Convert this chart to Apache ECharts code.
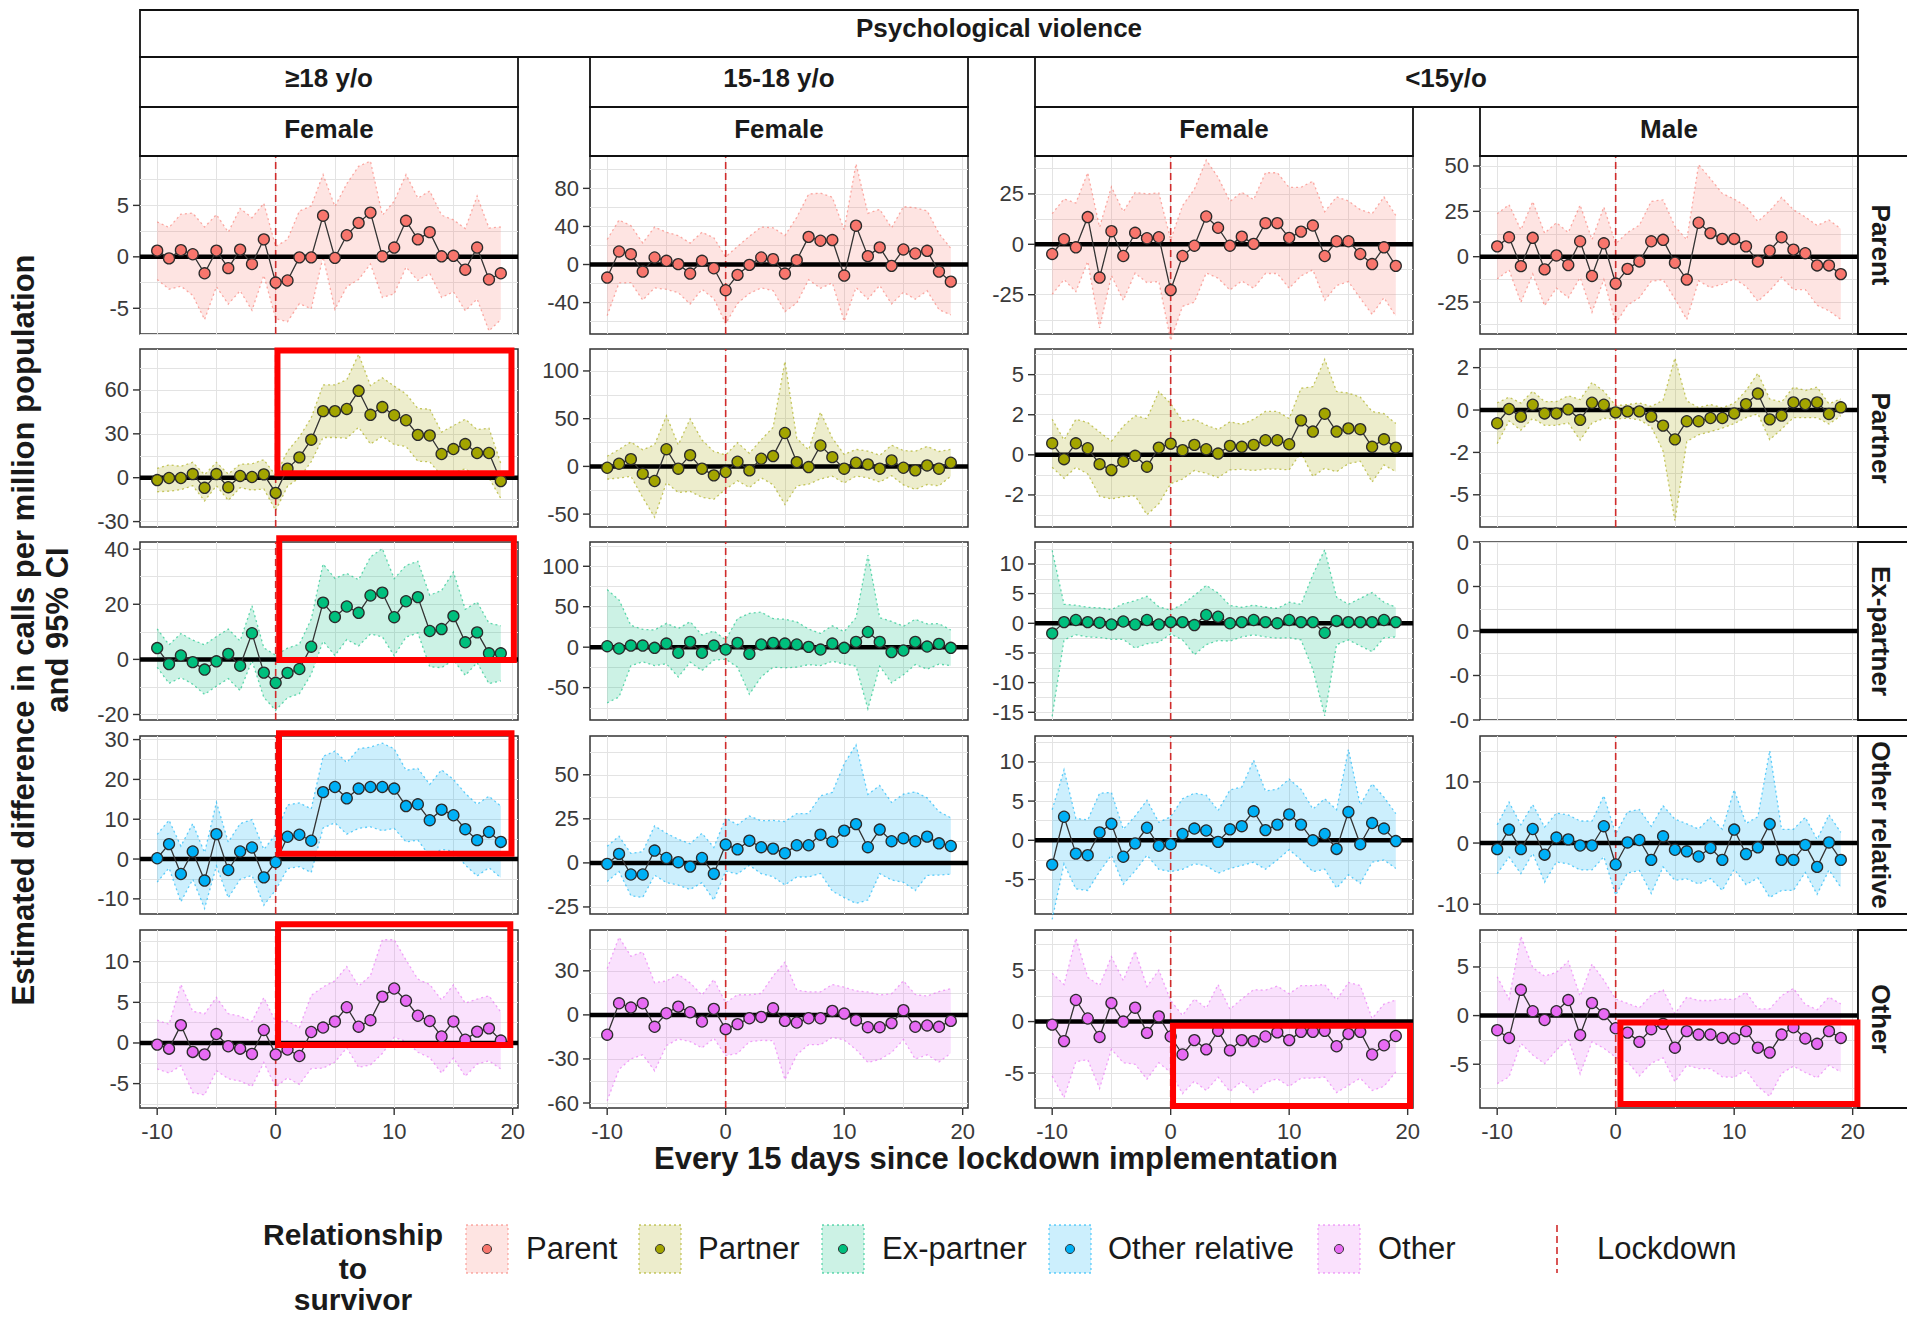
<!DOCTYPE html>
<html>
<head>
<meta charset="utf-8">
<script src="https://cdn.jsdelivr.net/npm/echarts@6/dist/echarts.min.js"></script>
<style>html,body{margin:0;padding:0;background:#fff}#c{width:1907px;height:1319px}</style>
</head>
<body>
<div id="c"></div>
<script>
// ---------------- DATA ----------------
const X = [-10,-9,-8,-7,-6,-5,-4,-3,-2,-1,0,1,2,3,4,5,6,7,8,9,10,11,12,13,14,15,16,17,18,19];

// Row: Parent
const est_parent_adultF = [0.6,-0.15,0.65,0.25,-1.6,0.6,-1.1,0.7,-0.7,1.7, -2.5,-2.3,-0.05,-0.05,4.0,-0.1,2.1,3.3,4.3,0.05, 0.9,3.5,1.7,2.4,0.05,0.1,-1.25,0.9,-2.2,-1.6];
const hw_parent_adultF  = [2.8,3,3.5,4,4.5,3.5,3.5,4,4.5,3.5, 3.5,4,4.5,5,4,5,5,5.5,5,4, 4.5,4.5,4,4,4,3.5,4,5,5,4.5];
const est_parent_teenF  = [-13.7,13.7,10.9,-7.4,7.4,3.9,0.4,-9.5,3.9,-3.9, -27,-10.9,-0.4,7.4,5.6,-9.5,4.6,29,25,25.7, -11.6,40.8,8.8,18,-1.4,15.8,11.6,14.4,-7.4,-18];
const hw_parent_teenF   = [40,33,30,30,32,30,30,32,30,32, 35,30,30,32,33,40,45,45,50,45, 48,65,45,40,40,45,48,42,40,35];
const est_parent_childF = [-4.8,2.5,-1.5,13.5,-16.5,6.5,-5.8,5.7,3,3.5, -22.7,-5.8,-0.7,13.8,8.2,-0.7,3.8,0.2,10.5,10.5, 3.2,6.3,9.3,-5.8,1.5,1.5,-4.8,-9.8,-1.5,-10.7];
const hw_parent_childF  = [20,20,22,22,25,22,22,20,22,22, 25,25,28,28,25,22,22,22,25,25, 25,22,22,22,22,20,22,25,25,25];
const est_parent_childM = [5.7,10.7,-5.2,10.4,-7,0.7,-4.6,8.5,-10.6,7.4, -14.8,-6.7,-2.6,8.5,9.3,-3.3,-12.6,18.7,13,9.8, 9.8,5.7,-2.6,3.3,10.7,3.9,1.9,-4.8,-4.8,-9.6];
const hw_parent_childM  = [18,18,20,20,20,18,18,20,20,20, 22,20,20,22,22,20,22,32,30,25, 22,22,22,22,22,22,20,22,25,25];

// Row: Partner
const est_partner_adultF = [-1.6,-0.2,-0.2,2.5,-6.9,2.5,-6.5,1.2,0.5,2.3, -10.4,6.2,13.9,26,45.5,45.5,47,59.4,43,48.3, 42.7,39.3,29.3,28.9,16.2,19.6,23,16.9,16.9,-2.3];
const hw_partner_adultF  = [8,9,8,8,9,8,9,8,9,10, 12,12,14,15,18,18,20,25,20,20, 20,18,18,18,15,16,17,16,17,12];
const est_partner_teenF  = [-1.4,2.8,7.6,-7.6,-15.3,18,-2.4,11.8,-2.4,-9.4, -5.9,4.9,-4.2,8,10.8,35,4.5,-0.7,21.9,9.7, -2.4,3.8,2.1,-2.4,6.3,-1.4,-4.2,1,-2.4,3.8];
const hw_partner_teenF   = [12,15,18,25,38,35,25,38,30,25, 18,20,18,20,30,75,25,18,35,20, 15,14,14,14,16,18,20,20,18,14];
const est_partner_childF = [0.72,-0.27,0.72,0.41,-0.58,-0.95,-0.41,-0.06,-0.74,0.45, 0.7,0.29,0.62,0.35,0.08,0.56,0.5,0.62,0.91,0.91, 0.66,2.15,1.45,2.56,1.45,1.65,1.6,0.5,0.97,0.45];
const hw_partner_childF  = [1.5,1.2,1.5,1.6,2,1.8,2.2,2.5,3,3.5, 2.5,1.8,1.6,1.5,1.5,1.5,1.4,1.6,1.8,1.8, 1.6,2,2.8,3.4,2.5,2.2,2,2.2,1.6,1.5];
const est_partner_childM = [-0.78,0.06,-0.39,0.31,-0.2,-0.2,0.04,-0.58,0.43,0.31, -0.14,-0.08,-0.08,-0.39,-0.92,-1.73,-0.66,-0.66,-0.47,-0.47, -0.2,0.35,0.97,-0.55,-0.33,0.45,0.35,0.45,-0.23,0.16];
const hw_partner_childM  = [1.2,0.7,0.8,0.8,0.7,0.7,0.8,1.2,1.2,0.8, 0.4,0.4,0.5,0.6,1.5,4.8,1.2,0.8,0.8,0.6, 0.6,0.8,1.2,1.2,0.8,0.9,0.8,0.9,0.6,0.5];

// Row: Ex-partner
const est_expartner_adultF = [4.1,-1.7,1.4,-1,-3.7,-0.7,2,-2.3,9.5,-4.8, -8.5,-4.9,-3.5,4.6,20.6,15.4,19.2,16.9,23.2,24.2, 15.3,21.1,22.6,10.3,11,15.7,6.2,9.8,2.2,2.2];
const hw_expartner_adultF  = [7,7,8,8,9,9,9,9,10,9, 10,9,9,10,14,14,12,12,14,16, 14,13,13,13,14,16,12,11,11,10];
const est_expartner_teenF  = [1.2,-1.6,2,2,-0.8,4.5,-6.9,6.5,-6.9,2, -2.9,5.3,-8.2,3.3,5.3,4.5,3.3,0.4,-2.9,4.5, -0.8,6.5,18.8,6.5,-6.1,-4.1,6.5,0.8,4.1,-0.8];
const hw_expartner_teenF   = [70,60,25,20,22,25,30,25,22,18, 12,30,50,40,30,30,28,22,20,22, 20,30,95,30,38,30,28,28,25,22];
const est_expartner_childF = [-1.7,0.2,0.55,0.2,0.1,-0.2,0.3,-0.2,0.55,-0.2, 0.2,0.2,-0.3,1.4,1.1,0,0.2,0.55,0.2,0, 0.55,0.2,0.2,-1.6,0.4,0.2,0.2,0.2,0.55,0.2];
const hw_expartner_childF  = [14,3,2.5,2.5,2.5,2.5,3,4,4,3, 2,3,5,5,4,3,2.5,2.5,2.5,2.5, 3,3,8,14,4,3,4,5,3,2.5];
// <15 Male, Ex-partner: no data

// Row: Other relative
const est_otherrel_adultF = [0.2,3.75,-3.75,1.9,-5.4,6.25,-2.75,1.9,2.9,-4.6, -0.8,5.6,6.1,4.6,16.8,18.1,15.25,17.7,18.1,18.1, 17.7,13.3,13.75,9.75,12.4,11,7.5,4.75,6.8,4.3];
const hw_otherrel_adultF  = [6,6,7,7,7,8,7,7,7,7, 7,8,8,8,9,9,9,10,10,11, 10,9,9,9,10,9,9,9,9,9];
const est_otherrel_teenF  = [-0.6,5.1,-6.6,-6.6,7,2.8,0.4,-2.1,2.8,-6.2, 10.4,7.7,12.6,8.9,8.1,5.5,10,10,16,12, 18.3,22,8.9,18.9,12.3,14,12.3,14.9,11.1,9.6];
const hw_otherrel_teenF   = [10,10,12,13,14,14,13,13,14,15, 15,14,14,15,16,18,18,18,22,28, 38,45,30,25,22,25,28,22,18,16];
const est_otherrel_childF = [-3.1,3.0,-1.7,-1.9,1,2.1,-2.1,-0.4,1.6,-0.7, -0.5,0.8,1.5,1.25,-0.2,1.4,1.8,3.7,1.3,2, 3.3,2,0,0.8,-1.1,3.6,-0.5,2.2,1.5,-0.1];
const hw_otherrel_childF  = [7,6,4.5,4.5,5,4,3.5,3.5,3.5,3, 3.5,4.5,4.5,4.5,4,5,5,6.5,5,4.5, 4.5,4.5,4,4.5,5,8,5,5,4,3.5];
const est_otherrel_childM = [-1,2.2,-1,2.3,-1.9,0.9,0.6,-0.4,-0.4,2.75, -3.5,0.1,0.5,-2.75,1.1,-1.1,-1.35,-2.2,-0.8,-2.75, 2.2,-1.8,-0.7,3.1,-2.75,-2.75,-0.3,-3.9,0.1,-2.75];
const hw_otherrel_childM  = [4,4.5,4,4,4.5,4,4,4,4,5, 5,5,5,5.5,5,5,4.5,4.5,5,5, 6.5,5,5,12,5,5,4.5,4.5,4.5,4.5];

// Row: Other
const est_other_adultF = [-0.2,-0.7,2.2,-1.1,-1.4,1.1,-0.4,-0.7,-1.35,1.6, -1.4,-0.8,-1.6,1.35,1.9,2.65,4.4,2.0,2.8,5.7, 6.7,5.2,3.35,2.7,0.8,2.65,0.4,1.4,1.8,0.3];
const hw_other_adultF  = [3,3,5,5,5,4.5,4,4,4,4, 4,3.5,3.5,4.5,5,5,5,5,5.5,7, 6,5,4.5,4.5,4.5,4.5,4.5,4,4,3.5];
const est_other_teenF  = [-13.5,7.9,5,7.9,-8.1,1.1,5.6,1.8,-4.5,4.1, -9.7,-6.3,-2.3,-1.4,4.5,-4.1,-5.2,-2.3,-2.3,2.7, 0.9,-3.6,-8.4,-8.4,-5.6,3.2,-8.1,-7.2,-8.1,-4.1];
const hw_other_teenF   = [45,45,35,35,30,22,22,20,18,20, 18,20,16,16,22,40,22,18,18,18, 18,20,24,22,20,20,22,20,24,22];
const est_other_childF = [-0.3,-1.9,2.1,0.3,-1.5,1.8,0,1.35,-1.1,0.5, -1.45,-3.2,-1.8,-2.7,-0.9,-2.8,-1.8,-1.9,-1.45,-1.05, -1.8,-1,-1,-0.9,-2.4,-1.2,-1,-3.2,-2.3,-1.4];
const hw_other_childF  = [5,5.5,6,4,5,4.5,4,5.5,4.5,4.5, 3.5,3.8,4,4,4.5,4,4,5,4.5,4.5, 4.5,4.5,4.5,4.5,4.5,5,4.5,3.5,4,3.5];
const est_other_childM = [-1.5,-2.3,2.65,0.45,-0.45,0.45,1.6,-2,1.3,0.15, -1.3,-1.75,-2.7,-1.4,-0.85,-3.3,-1.6,-1.95,-1.95,-2.3, -2.35,-1.6,-3.3,-3.8,-1.95,-1.2,-2.35,-2.9,-1.6,-2.3];
const hw_other_childM  = [5.5,4,5.5,4.5,4.5,4,4,4,4,3.5, 3,3,3.5,3.5,3.5,3.5,3.5,3.5,3.5,4, 4,4,4,4.5,4,4,3.5,3.5,3.5,3.5];

// Categories / labels
const ROWS = ['Parent','Partner','Ex-partner','Other relative','Other'];
const AGE_STRIPS = ['\u226518 y/o','15-18 y/o','<15y/o'];
const SEX_STRIPS = ['Female','Female','Female','Male'];

// Y axis ranges, tick values and tick label texts (rows x columns)
const Y_RANGE = [
  [[-7.5,9.8],[-73,114],[-44.5,43.8],[-42.6,55.5]],
  [[-33.7,88],[-63.5,123],[-4.5,6.6],[-6.9,3.6]],
  [[-22,42.6],[-90,130],[-16.3,13.7],[-1,1]],
  [[-13.8,30.9],[-29,72],[-9.4,13.3],[-11.6,17.5]],
  [[-8,13.9],[-63.4,57.8],[-8.4,8.9],[-9.5,8.8]]
];
const Y_TICKS = [
  [[-5,0,5],[-40,0,40,80],[-25,0,25],[-25,0,25,50]],
  [[-30,0,30,60],[-50,0,50,100],[-2.5,0,2.5,5],[-5,-2.5,0,2.5]],
  [[-20,0,20,40],[-50,0,50,100],[-15,-10,-5,0,5,10],[-1,-0.5,0,0.5,1]],
  [[-10,0,10,20,30],[-25,0,25,50],[-5,0,5,10],[-10,0,10]],
  [[-5,0,5,10],[-60,-30,0,30],[-5,0,5],[-5,0,5]]
];
const Y_TICK_TEXT = [
  [null,null,null,null],
  [null,null,['-2','0','2','5'],['-5','-2','0','2']],
  [null,null,null,['-0','-0','0','0','0']],
  [null,null,null,null],
  [null,null,null,null]
];
const X_TICKS = [-10,0,10,20];
const X_RANGE = [-11.45,20.45];

// Highlight boxes (data coordinates of the annotated panel)
const BOXES = [
  {row:1,col:0,x0:0.15,x1:19.9,y0:3,y1:87},
  {row:2,col:0,x0:0.3,x1:20.1,y0:-0.2,y1:44},
  {row:3,col:0,x0:0.28,x1:19.9,y0:1.3,y1:31.6},
  {row:4,col:0,x0:0.2,x1:19.8,y0:-0.25,y1:14.6},
  {row:4,col:2,x0:0.2,x1:20.2,y0:-8.2,y1:-0.4},
  {row:4,col:3,x0:0.4,x1:20.4,y0:-9.1,y1:-0.7}
];

// ---------------- ASSEMBLY ----------------
const EST = [
  [est_parent_adultF, est_parent_teenF, est_parent_childF, est_parent_childM],
  [est_partner_adultF, est_partner_teenF, est_partner_childF, est_partner_childM],
  [est_expartner_adultF, est_expartner_teenF, est_expartner_childF, null],
  [est_otherrel_adultF, est_otherrel_teenF, est_otherrel_childF, est_otherrel_childM],
  [est_other_adultF, est_other_teenF, est_other_childF, est_other_childM]
];
const HW = [
  [hw_parent_adultF, hw_parent_teenF, hw_parent_childF, hw_parent_childM],
  [hw_partner_adultF, hw_partner_teenF, hw_partner_childF, hw_partner_childM],
  [hw_expartner_adultF, hw_expartner_teenF, hw_expartner_childF, null],
  [hw_otherrel_adultF, hw_otherrel_teenF, hw_otherrel_childF, hw_otherrel_childM],
  [hw_other_adultF, hw_other_teenF, hw_other_childF, hw_other_childM]
];

const COLORS = ['#F8766D','#A3A500','#00BF7D','#00B0F6','#E76BF3'];
const FONT = "'Liberation Sans', Arial, Helvetica, sans-serif";
const GRID_LEFT = [140, 590, 1035, 1480];
const GRID_TOP = [156, 349, 542, 736, 930];
const GW = 378, GH = 178;
const TXT = '#1a1a1a', AXT = '#3a3a3a';

function rgba(hex, a) {
  const n = parseInt(hex.slice(1), 16);
  return 'rgba(' + ((n>>16)&255) + ',' + ((n>>8)&255) + ',' + (n&255) + ',' + a + ')';
}
function gridVals(ticks, lo, hi) {
  const half = (ticks[1] - ticks[0]) / 2;
  const out = [];
  for (let k = Math.ceil(lo / half - 1e-9); k * half <= hi + 1e-9; k++) out.push(+(k * half).toFixed(6));
  return out;
}

const grids = [], xAxes = [], yAxes = [], series = [];
for (let r = 0; r < 5; r++) {
  for (let c = 0; c < 4; c++) {
    const g = r * 4 + c;
    const [ymin, ymax] = Y_RANGE[r][c];
    const yt = Y_TICKS[r][c];
    const ytxt = Y_TICK_TEXT[r][c] || yt.map(v => String(v));
    grids.push({left: GRID_LEFT[c], top: GRID_TOP[r], width: GW, height: GH, show: true,
      backgroundColor: '#fff', borderColor: '#333', borderWidth: 1.5, containLabel: false, outerBoundsMode: 'none'});
    xAxes.push({type: 'value', gridIndex: g, min: X_RANGE[0], max: X_RANGE[1],
      axisLine: {show: false},
      axisTick: {show: false, customValues: gridVals(X_TICKS, X_RANGE[0], X_RANGE[1])},
      splitLine: {show: true, lineStyle: {color: '#e3e3e3', width: 1}},
      axisLabel: {show: r === 4, customValues: X_TICKS, fontSize: 22, color: AXT, fontFamily: FONT, margin: 12,
        showMinLabel: true, showMaxLabel: true, hideOverlap: false}
    });
    yAxes.push({type: 'value', gridIndex: g, min: ymin, max: ymax,
      axisLine: {show: false},
      axisTick: {show: false, customValues: gridVals(yt, ymin, ymax)},
      splitLine: {show: true, lineStyle: {color: '#e3e3e3', width: 1}},
      axisLabel: {customValues: yt, fontSize: 22, color: AXT, fontFamily: FONT, margin: 11,
        showMinLabel: true, showMaxLabel: true, hideOverlap: false,
        formatter: function (v) { const i = yt.findIndex(t => Math.abs(t - v) < 1e-6); return i >= 0 ? ytxt[i] : ''; }}
    });
    const est = EST[r][c], hw = HW[r][c];
    const color = COLORS[r];
    const hasData = !!est;
    series.push({
      type: 'custom', xAxisIndex: g, yAxisIndex: g, z: 2, silent: true, clip: false, animation: false,
      data: hasData ? X.map((x, i) => [x, est[i] - hw[i], est[i] + hw[i]]) : [[0, 0, 0]],
      encode: {x: 0, y: [1, 2]},
      renderItem: function (params, api) {
        if (params.dataIndexInside !== 0) return null;
        const children = [];
        const n = params.dataInsideLength;
        if (hasData) {
          const up = [], lo = [];
          for (let i = 0; i < n; i++) {
            up.push(api.coord([api.value(0, i), api.value(2, i)]));
            lo.push(api.coord([api.value(0, i), api.value(1, i)]));
          }
          children.push({type: 'polygon', shape: {points: up.concat(lo.slice().reverse())},
            style: {fill: rgba(color, 0.2), stroke: null}});
          children.push({type: 'polyline', shape: {points: up},
            style: {fill: null, stroke: rgba(color, 0.6), lineWidth: 1.3, lineDash: [2, 3]}});
          children.push({type: 'polyline', shape: {points: lo},
            style: {fill: null, stroke: rgba(color, 0.6), lineWidth: 1.3, lineDash: [2, 3]}});
          const a = api.coord([0, ymin]), b = api.coord([0, ymax]);
          children.push({type: 'line', shape: {x1: a[0], y1: a[1], x2: b[0], y2: b[1]},
            style: {stroke: '#d02c2c', lineWidth: 1.6, lineDash: [7, 4]}});
        }
        const z0 = api.coord([X_RANGE[0], 0]), z1 = api.coord([X_RANGE[1], 0]);
        children.push({type: 'line', shape: {x1: z0[0], y1: z0[1], x2: z1[0], y2: z1[1]},
          style: {stroke: '#000', lineWidth: 4.5}});
        yt.forEach(v => {
          const p = api.coord([X_RANGE[0], v]);
          children.push({type: 'line', shape: {x1: p[0] - 7, y1: p[1], x2: p[0], y2: p[1]},
            style: {stroke: '#333', lineWidth: 1.4}});
        });
        if (r === 4) {
          X_TICKS.forEach(v => {
            const p = api.coord([v, ymin]);
            children.push({type: 'line', shape: {x1: p[0], y1: p[1], x2: p[0], y2: p[1] + 7},
              style: {stroke: '#333', lineWidth: 1.4}});
          });
        }
        return {type: 'group', children: children};
      }
    });
    if (hasData) {
      series.push({
        type: 'line', xAxisIndex: g, yAxisIndex: g, z: 5, silent: true, animation: false,
        data: X.map((x, i) => [x, est[i]]),
        symbol: 'circle', symbolSize: 11, showSymbol: true, showAllSymbol: true,
        lineStyle: {color: '#333', width: 1.3},
        itemStyle: {color: color, borderColor: '#2b2b2b', borderWidth: 1.3},
        emphasis: {disabled: true}
      });
    }
  }
}

const chart = echarts.init(document.getElementById('c'), null, {renderer: 'svg', width: 1907, height: 1319});
chart.setOption({animation: false, backgroundColor: '#fff', grid: grids, xAxis: xAxes, yAxis: yAxes, series: series});

// ---------------- GRAPHICS (strips, titles, legend, boxes) ----------------
const gfx = [];
function stripBox(x, y, w, h, text, tx, ty, rot) {
  gfx.push({type: 'rect', shape: {x: x, y: y, width: w, height: h},
    style: {fill: '#fff', stroke: '#111', lineWidth: 1.8}, z: 10});
  gfx.push({type: 'text', x: tx, y: ty, rotation: rot || 0, z: 11,
    style: {text: text, fontSize: 26, fontWeight: 'bold', fill: TXT, fontFamily: FONT, align: 'center', verticalAlign: 'middle'}});
}
// top strip
stripBox(140, 10, 1718, 47, 'Psychological violence', 999, 28);
// age strips
stripBox(140, 57, 378, 50, AGE_STRIPS[0], 329, 78);
stripBox(590, 57, 378, 50, AGE_STRIPS[1], 779, 78);
stripBox(1035, 57, 823, 50, AGE_STRIPS[2], 1446, 78);
// sex strips
for (let c = 0; c < 4; c++) stripBox(GRID_LEFT[c], 107, GW, 49, SEX_STRIPS[c], GRID_LEFT[c] + GW / 2, 129);
// row strips
for (let r = 0; r < 5; r++) stripBox(1858, GRID_TOP[r], 50, GH, ROWS[r], 1881, GRID_TOP[r] + GH / 2, -Math.PI / 2);

// axis titles
gfx.push({type: 'text', x: 996, y: 1158, style: {text: 'Every 15 days since lockdown implementation', fontSize: 31, fontWeight: 'bold', fill: TXT, fontFamily: FONT, align: 'center', verticalAlign: 'middle'}});
gfx.push({type: 'text', x: 23, y: 630, rotation: Math.PI / 2, style: {text: 'Estimated difference in calls per million population', fontSize: 31, fontWeight: 'bold', fill: TXT, fontFamily: FONT, align: 'center', verticalAlign: 'middle'}});
gfx.push({type: 'text', x: 57, y: 630, rotation: Math.PI / 2, style: {text: 'and 95% CI', fontSize: 31, fontWeight: 'bold', fill: TXT, fontFamily: FONT, align: 'center', verticalAlign: 'middle'}});

// legend
['Relationship', 'to', 'survivor'].forEach((t, i) => {
  gfx.push({type: 'text', x: 353, y: [1234, 1268, 1299][i], style: {text: t, fontSize: 30, fontWeight: 'bold', fill: TXT, fontFamily: FONT, align: 'center', verticalAlign: 'middle'}});
});
const LEG_X = [466, 639, 822, 1049, 1318];
const LEG_TX = [526, 698, 882, 1108, 1378];
ROWS.forEach((name, i) => {
  gfx.push({type: 'rect', shape: {x: LEG_X[i], y: 1225, width: 42, height: 48},
    style: {fill: rgba(COLORS[i], 0.2), stroke: rgba(COLORS[i], 0.6), lineWidth: 1.3, lineDash: [2, 3]}});
  gfx.push({type: 'circle', shape: {cx: LEG_X[i] + 21, cy: 1249, r: 4.5},
    style: {fill: COLORS[i], stroke: '#333', lineWidth: 1}});
  gfx.push({type: 'text', x: LEG_TX[i], y: 1248, style: {text: name, fontSize: 31, fill: TXT, fontFamily: FONT, align: 'left', verticalAlign: 'middle'}});
});
gfx.push({type: 'line', shape: {x1: 1557, y1: 1225, x2: 1557, y2: 1273}, style: {stroke: '#d02c2c', lineWidth: 1.6, lineDash: [7, 4]}});
gfx.push({type: 'text', x: 1597, y: 1248, style: {text: 'Lockdown', fontSize: 31, fill: TXT, fontFamily: FONT, align: 'left', verticalAlign: 'middle'}});

// highlight boxes positioned through the panel scales
BOXES.forEach(b => {
  const g = b.row * 4 + b.col;
  const p0 = chart.convertToPixel({gridIndex: g}, [b.x0, b.y1]);
  const p1 = chart.convertToPixel({gridIndex: g}, [b.x1, b.y0]);
  gfx.push({type: 'rect', z: 20, shape: {x: p0[0], y: p0[1], width: p1[0] - p0[0], height: p1[1] - p0[1]},
    style: {fill: null, stroke: '#ff0000', lineWidth: 6}});
});

chart.setOption({graphic: {elements: gfx}});
</script>
</body>
</html>
